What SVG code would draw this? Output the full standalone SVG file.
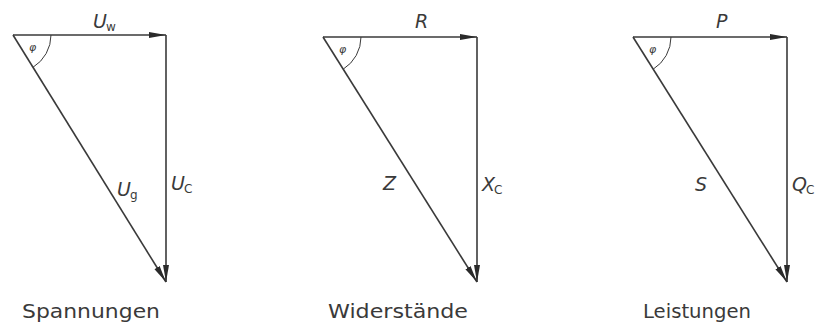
<svg xmlns="http://www.w3.org/2000/svg" width="819" height="330" viewBox="0 0 819 330">
<style>
.ln{stroke:#3a3a3a;stroke-width:1.6;fill:none}
.arc{stroke:#3a3a3a;stroke-width:1;fill:none}
.lb{font-family:"DejaVu Sans","Liberation Sans",sans-serif;font-style:italic;font-size:19px;fill:#3a3a3a}
.sb{font-style:normal;font-size:12px}
.phi{font-family:"DejaVu Sans","Liberation Sans",sans-serif;font-style:italic;font-size:11px;fill:#3a3a3a}
.cap{font-family:"DejaVu Sans","Liberation Sans",sans-serif;font-size:19px;fill:#3a3a3a}
</style>
<defs>
<marker id="ah" markerWidth="18" markerHeight="8" refX="17" refY="4" orient="auto" markerUnits="userSpaceOnUse">
<path d="M0,1 L17,4 L0,7 Z" fill="#2a2a2a"/>
</marker>
</defs>
<rect width="819" height="330" fill="#ffffff"/>
<g id="connectors">
<line class="ln" x1="13" y1="35" x2="166" y2="35" marker-end="url(#ah)"/>
<line class="ln" x1="166" y1="35" x2="166" y2="282" marker-end="url(#ah)"/>
<line class="ln" x1="13" y1="35" x2="166" y2="282" marker-end="url(#ah)"/>
<line class="ln" x1="323" y1="37" x2="477" y2="37" marker-end="url(#ah)"/>
<line class="ln" x1="477" y1="37" x2="477" y2="282" marker-end="url(#ah)"/>
<line class="ln" x1="323" y1="37" x2="477" y2="282" marker-end="url(#ah)"/>
<line class="ln" x1="633" y1="37" x2="787" y2="37" marker-end="url(#ah)"/>
<line class="ln" x1="787" y1="37" x2="787" y2="282" marker-end="url(#ah)"/>
<line class="ln" x1="633" y1="37" x2="787" y2="282" marker-end="url(#ah)"/>
</g>
<g id="spannungen">
<path class="arc" d="M51,35 A38,38 0 0 1 33,67.3"/>
<text class="phi" x="29" y="51">φ</text>
<text class="lb" x="93" y="28">U<tspan class="sb" dx="-1" dy="3">w</tspan></text>
<text class="lb" x="117" y="196">U<tspan class="sb" dx="-1" dy="3">g</tspan></text>
<text class="lb" x="171" y="190">U<tspan class="sb" dx="-1" dy="3">C</tspan></text>
<text class="cap" x="22" y="318" textLength="138" lengthAdjust="spacingAndGlyphs">Spannungen</text>
</g>
<g id="widerstaende">
<path class="arc" d="M361,37 A38,38 0 0 1 343.2,69.2"/>
<text class="phi" x="339" y="53">φ</text>
<text class="lb" x="415" y="28">R</text>
<text class="lb" x="383" y="190">Z</text>
<text class="lb" x="482" y="191">X<tspan class="sb" dx="-1" dy="3">C</tspan></text>
<text class="cap" x="328" y="318" textLength="140" lengthAdjust="spacingAndGlyphs">Widerstände</text>
</g>
<g id="leistungen">
<path class="arc" d="M671,37 A38,38 0 0 1 653.2,69.2"/>
<text class="phi" x="649" y="53">φ</text>
<text class="lb" x="716" y="28">P</text>
<text class="lb" x="695" y="191">S</text>
<text class="lb" x="792" y="191">Q<tspan class="sb" dx="-1" dy="3">C</tspan></text>
<text class="cap" x="643" y="318" textLength="108" lengthAdjust="spacingAndGlyphs">Leistungen</text>
</g>
</svg>
